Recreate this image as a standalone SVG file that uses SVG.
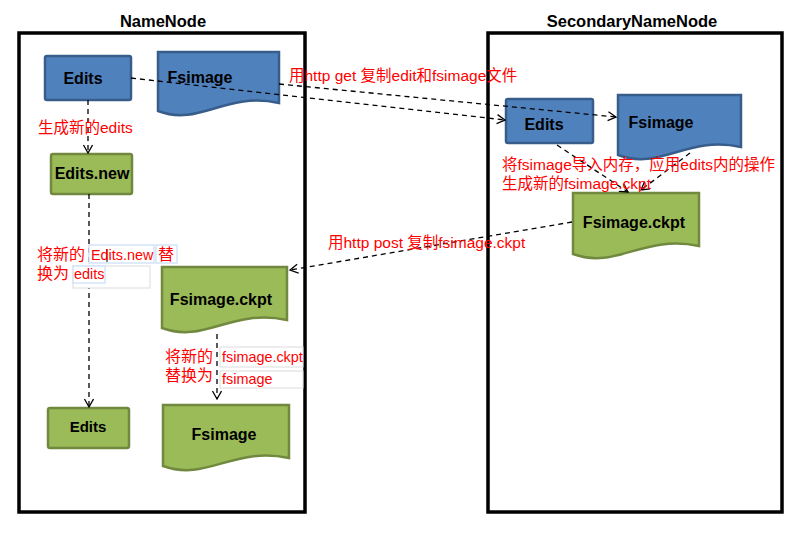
<svg xmlns="http://www.w3.org/2000/svg" width="799" height="543" viewBox="0 0 799 543">
<defs>
<style>
.frame{fill:none;stroke:#000;stroke-width:3.5}
.title{font-family:"Liberation Sans","Noto Sans CJK SC",sans-serif;font-weight:bold;font-size:16.5px;fill:#000;text-anchor:middle}
.blue{fill:#4F81BD;stroke:#385D8A;stroke-width:2.5}
.green{fill:#9BBB59;stroke:#71893F;stroke-width:2.5}
.nt{font-family:"Liberation Sans","Noto Sans CJK SC",sans-serif;font-weight:bold;font-size:16px;fill:#000;text-anchor:middle}
.lbl{font-family:"Liberation Sans","Noto Sans CJK SC",sans-serif;font-size:15.5px;fill:#FF0000}
.cj{font-size:16px}
.lt{font-size:14.4px}
.con{fill:none;stroke:#000;stroke-width:1.3;stroke-dasharray:5 4;marker-end:url(#arr)}
.hl{fill:#fff;stroke:#d3e4f7;stroke-width:1.5}
.sh{fill:#fff;stroke:#dcdcdc;stroke-width:1}
</style>
<marker id="arr" markerWidth="12" markerHeight="12" refX="9" refY="5" orient="auto" markerUnits="userSpaceOnUse">
<path d="M1,0.5 L9,5 L1,9.5" fill="none" stroke="#000" stroke-width="1.3"/>
</marker>
</defs>
<rect width="799" height="543" fill="#fff"/>

<g id="namenode">
<rect class="frame" x="19" y="33" width="286" height="479"/>
<text class="title" x="163" y="27">NameNode</text>
</g>
<g id="secondarynamenode">
<rect class="frame" x="488" y="33" width="294" height="479"/>
<text class="title" x="632" y="27">SecondaryNameNode</text>
</g>

<g id="nn-edits">
<rect class="blue" x="45" y="56" width="86" height="44" rx="2"/>
<text class="nt" x="83" y="84">Edits</text>
</g>
<g id="nn-fsimage">
<path class="blue" d="M158,52 H279 V103 C225,91 200,127 158,111 Z"/>
<text class="nt" x="200" y="83">Fsimage</text>
</g>
<g id="nn-editsnew">
<rect class="green" x="51" y="154" width="81" height="40" rx="2"/>
<text class="nt" x="92" y="179">Edits.new</text>
</g>
<g id="nn-ckpt">
<path class="green" d="M162,267 H287 V320 C231,308 205,344 162,328 Z"/>
<text class="nt" x="221" y="305">Fsimage.ckpt</text>
</g>
<g id="nn-edits2">
<rect class="green" x="48" y="408" width="81" height="40" rx="2"/>
<text class="nt" x="88" y="432" style="font-size:15px">Edits</text>
</g>
<g id="nn-fsimage2">
<path class="green" d="M163,405 H289 V458 C233,446 207,482 163,466 Z"/>
<text class="nt" x="224" y="440">Fsimage</text>
</g>

<g id="snn-edits">
<rect class="blue" x="506" y="99" width="87" height="44" rx="2"/>
<text class="nt" x="544" y="130">Edits</text>
</g>
<g id="snn-fsimage">
<path class="blue" d="M618,95 H741 V147 C686,135 661,171 618,155 Z"/>
<text class="nt" x="661" y="128">Fsimage</text>
</g>
<g id="snn-ckpt">
<path class="green" d="M573,193 H699 V246 C643,234 617,270 573,254 Z"/>
<text class="nt" x="634" y="228">Fsimage.ckpt</text>
</g>

<g id="connectors">
<line class="con" x1="88" y1="100" x2="88" y2="153"/>
<line class="con" x1="89" y1="194" x2="89" y2="407"/>
<line class="con" x1="217" y1="334" x2="217" y2="399"/>
<line class="con" x1="131" y1="78" x2="505" y2="120"/>
<line class="con" x1="279" y1="84" x2="616" y2="117"/>
<line class="con" x1="557" y1="145" x2="628" y2="192"/>
<line class="con" x1="690" y1="153" x2="641" y2="190"/>
<line class="con" x1="572" y1="222" x2="290" y2="270"/>
</g>

<g id="labels">
<text class="lbl" x="38" y="133">生成新的edits</text>
<text class="lbl" x="289" y="81">用http get 复制edit和fsimage文件</text>
<text class="lbl" x="502" y="170">将fsimage导入内存，应用edits内的操作</text>
<text class="lbl" x="502" y="189">生成新的fsimage.ckpt</text>
<text class="lbl" x="328" y="248">用http post 复制fsimage.ckpt</text>

<rect class="sh" x="73" y="266" width="77" height="22"/>
<rect class="hl" x="89" y="245" width="65" height="18"/>
<rect class="hl" x="156" y="245" width="21" height="18"/>
<rect class="hl" x="73" y="266" width="32" height="17"/>
<line x1="107" y1="249" x2="107" y2="262" stroke="#000" stroke-width="1"/>
<text class="lbl cj" x="37" y="260">将新的</text>
<text class="lbl lt" x="91" y="260">Edits.new</text>
<text class="lbl cj" x="158" y="260">替</text>
<text class="lbl cj" x="37" y="279">换为</text>
<text class="lbl lt" x="74" y="279">edits</text>

<rect class="sh" x="220" y="347" width="83" height="20"/>
<rect class="sh" x="220" y="371" width="83" height="17"/>
<text class="lbl cj" x="165" y="362">将新的</text>
<text class="lbl cj" x="165" y="381">替换为</text>
<text class="lbl lt" x="222" y="362">fsimage.ckpt</text>
<text class="lbl lt" x="222" y="384">fsimage</text>
</g>
</svg>
